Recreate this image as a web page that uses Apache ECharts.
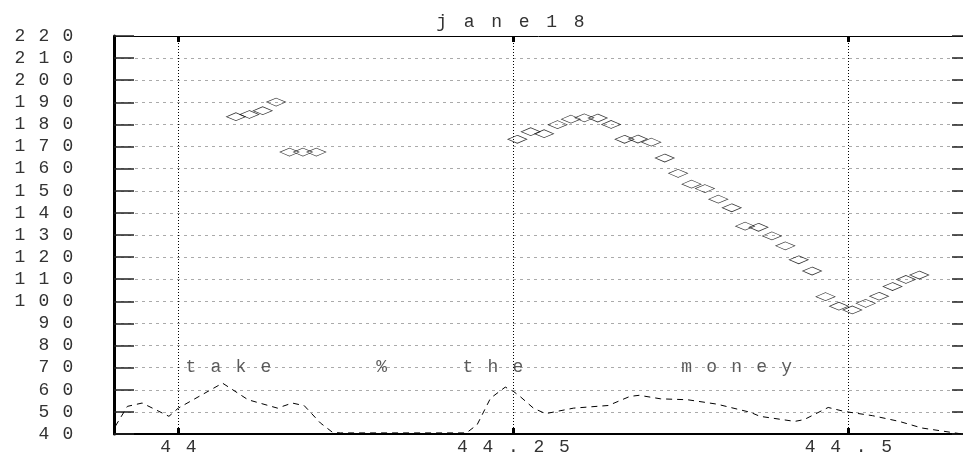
<!DOCTYPE html>
<html>
<head>
<meta charset="utf-8">
<script src="https://cdn.jsdelivr.net/npm/echarts@6/dist/echarts.min.js"></script>
<style>html,body{margin:0;padding:0;background:#fff}#c{width:963px;height:456px}</style>
</head>
<body>
<div id="c"></div>
<script>
const titleText = 'jane18';
const xTicks = [44, 44.25, 44.5];
const yMin = 40, yMax = 220, yStep = 10;

const pitchTimes = [44.043, 44.053, 44.063, 44.073, 44.083, 44.093, 44.103,
  44.253, 44.263, 44.273, 44.283, 44.293, 44.303, 44.313, 44.323, 44.333, 44.343,
  44.353, 44.363, 44.373, 44.383, 44.393, 44.403, 44.413, 44.423, 44.433, 44.443,
  44.453, 44.463, 44.473, 44.483, 44.493, 44.503, 44.513, 44.523, 44.533, 44.543, 44.553];
const pitchValues = [183.5, 184.5, 186.2, 190.1, 167.5, 167.5, 167.5,
  173.3, 176.7, 175.8, 179.9, 182.4, 183.0, 182.9, 180.0, 173.3, 173.4,
  172.0, 164.8, 157.9, 153.0, 151.0, 146.2, 142.3, 134.0, 133.5, 129.6,
  125.1, 118.8, 113.7, 102.1, 97.8, 96.1, 99.1, 102.3, 106.7, 109.9, 111.9];

const ampTimes = [43.953, 43.962, 43.973, 43.993, 44.000, 44.033, 44.052, 44.074, 44.085, 44.094,
  44.106, 44.115, 44.121, 44.215, 44.223, 44.233, 44.244, 44.250, 44.255, 44.265, 44.274,
  44.295, 44.321, 44.337, 44.344, 44.360, 44.380, 44.402, 44.427, 44.434, 44.460, 44.467,
  44.485, 44.497, 44.518, 44.538, 44.555, 44.585];
const ampValues = [43.5, 52.5, 54.0, 48.0, 51.7, 63.0, 55.5, 51.7, 54.0, 52.8,
  45.0, 40.8, 40.5, 40.5, 44.2, 56.2, 61.2, 59.3, 57.0, 51.7, 49.2,
  51.7, 52.9, 57.0, 57.5, 55.9, 55.5, 53.5, 49.8, 48.0, 45.7, 46.5,
  52.0, 50.2, 48.3, 45.7, 42.7, 40.0];

const words = ['take', '%', 'the', 'money'];
const wordTimes = [44.0, 44.1425, 44.2067, 44.370];
const wordLevel = 70;

const FONT = 'Liberation Mono';
const spaced = s => String(s).split('').map(c => '{c|' + c + '}').join('');
const richChar = (w, size) => ({ c: { width: w, align: 'center', fontSize: size, fontFamily: FONT, fontWeight: 'normal', color: '#333' } });

const chart = echarts.init(document.getElementById('c'));
chart.setOption({
  animation: false,
  backgroundColor: '#fff',
  title: {
    text: spaced(titleText),
    left: 423, top: 8,
    textStyle: { fontWeight: 'normal', rich: richChar(27.5, 18) }
  },
  grid: { left: 114, top: 36, bottom: 20, right: 0, containLabel: false },
  xAxis: [{
    type: 'value', min: 43.952, max: 44.5856, position: 'bottom',
    axisLine: { show: true, lineStyle: { color: '#000', width: 2 } },
    axisTick: { show: true, inside: true, length: 6, customValues: xTicks, lineStyle: { color: '#000', width: 3 } },
    axisLabel: { show: true, customValues: xTicks, margin: 4, formatter: v => spaced(v), rich: richChar(25.5, 18) },
    splitLine: { show: false }
  }, {
    type: 'value', min: 43.952, max: 44.5856, position: 'top',
    axisLine: { show: true, onZero: false, lineStyle: { color: '#000', width: 1 } },
    axisTick: { show: true, inside: true, length: 6, customValues: xTicks, lineStyle: { color: '#000', width: 3 } },
    axisLabel: { show: false },
    splitLine: { show: false }
  }],
  yAxis: [{
    type: 'value', min: yMin, max: yMax, interval: yStep, position: 'left',
    axisLine: { show: true, lineStyle: { color: '#000', width: 3 } },
    axisTick: { show: true, inside: true, length: 20, lineStyle: { color: '#222', width: 1.5 } },
    axisLabel: { show: true, margin: 34, formatter: v => spaced(v), rich: richChar(24, 18) },
    splitLine: { show: true, lineStyle: { color: '#aaa', width: 1, type: [3, 4] } }
  }, {
    type: 'value', min: yMin, max: yMax, interval: yStep, position: 'right',
    axisLine: { show: false },
    axisTick: { show: true, inside: true, length: 11, lineStyle: { color: '#222', width: 1.5 } },
    axisLabel: { show: false },
    splitLine: { show: false }
  }],
  series: [{
    type: 'line',
    data: ampTimes.map((t, i) => [t, ampValues[i]]),
    symbol: 'none',
    lineStyle: { color: '#000', width: 1, type: [6, 5] },
    silent: true,
    markLine: {
      symbol: 'none', silent: true, animation: false,
      label: { show: false },
      lineStyle: { color: '#000', width: 1, type: [1, 2] },
      data: xTicks.map(v => ({ xAxis: v }))
    }
  }, {
    type: 'scatter',
    data: pitchTimes.map((t, i) => [t, pitchValues[i]]),
    symbol: 'diamond',
    symbolSize: [19, 8],
    itemStyle: { color: 'rgba(255,255,255,0)', borderColor: '#000', borderWidth: 0.8 },
    silent: true
  }, {
    type: 'scatter',
    data: wordTimes.map((t, i) => [t, wordLevel, words[i]]),
    symbolSize: 0,
    silent: true,
    label: {
      show: true, position: 'right', distance: 0,
      formatter: p => spaced(p.data[2]),
      rich: richChar(25, 18)
    }
  }]
});
</script>
</body>
</html>
